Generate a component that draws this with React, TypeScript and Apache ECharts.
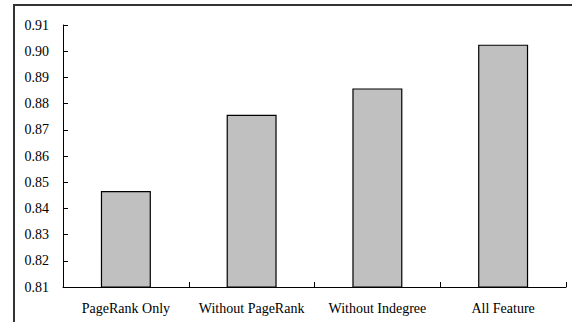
import React, { useEffect, useRef } from "react";
import * as echarts from "echarts";

const categories = ["PageRank Only", "Without PageRank", "Without Indegree", "All Feature"];
const values = [0.8466, 0.8757, 0.8858, 0.9025];
const yMin = 0.81;
const yMax = 0.91;
const yStep = 0.01;

export default function App() {
  const ref = useRef<HTMLDivElement>(null);
  useEffect(() => {
    if (!ref.current) return;
    const chart = echarts.init(ref.current, null, { renderer: "svg" });
    const font = "Liberation Serif";
    chart.setOption({
      animation: false,
      backgroundColor: "#ffffff",
      textStyle: { fontFamily: font },
      grid: { left: 63, right: 6, top: 25, bottom: 35, containLabel: false },
      xAxis: {
        type: "category",
        data: categories,
        boundaryGap: true,
        axisLine: { show: true, lineStyle: { color: "#000", width: 1 } },
        axisTick: { show: true, inside: true, length: 5, alignWithLabel: false, lineStyle: { color: "#000" } },
        axisLabel: { color: "#000", fontFamily: font, fontSize: 14, margin: 14, interval: 0 },
        splitLine: { show: false },
      },
      yAxis: {
        type: "value",
        min: yMin,
        max: yMax,
        interval: yStep,
        axisLine: { show: true, lineStyle: { color: "#000", width: 1 } },
        axisTick: { show: true, inside: true, length: 5, lineStyle: { color: "#000" } },
        axisLabel: {
          color: "#000",
          fontFamily: font,
          fontSize: 14,
          margin: 14,
          formatter: (v: number) => v.toFixed(2),
        },
        splitLine: { show: false },
      },
      series: [
        {
          type: "bar",
          data: values,
          barWidth: 50,
          itemStyle: { color: "#c0c0c0", borderColor: "#000", borderWidth: 1.2 },
        },
      ],
      graphic: [
        { type: "line", shape: { x1: 13, y1: 5, x2: 572, y2: 5 }, style: { stroke: "#333", lineWidth: 2 } },
        { type: "line", shape: { x1: 14, y1: 4, x2: 14, y2: 322 }, style: { stroke: "#333", lineWidth: 2 } },
      ],
    });
    return () => chart.dispose();
  }, []);
  return <div ref={ref} style={{ width: 572, height: 322, position: "fixed", left: 0, top: 0 }} />;
}
